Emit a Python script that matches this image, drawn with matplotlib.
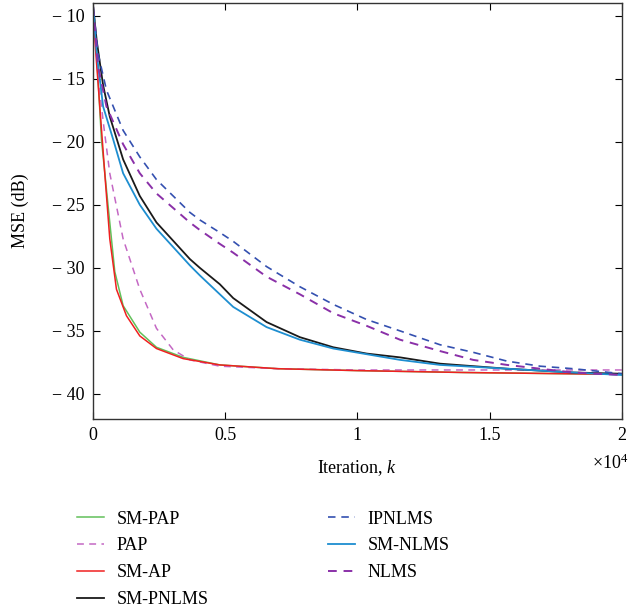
import matplotlib
matplotlib.use("Agg")
import matplotlib.pyplot as plt

plt.rcParams['font.family'] = ['Liberation Serif', 'DejaVu Serif']
plt.rcParams['mathtext.fontset'] = 'custom'
plt.rcParams['mathtext.rm'] = 'Liberation Serif'
plt.rcParams['mathtext.it'] = 'Liberation Serif:italic'

# values (iteration k, MSE in dB)
sm_pap_k = [0, 1, 120, 328, 580, 832, 1147, 1777, 2407, 3416, 4800, 7000, 10000, 14000, 20000]
sm_pap_db = [-42, -9, -12, -19.8, -25.1, -30.3, -33.0, -35.1, -36.3, -37.1, -37.7, -38.0, -38.15, -38.3, -38.45]

pap_k = [0, 1, 200, 400, 643, 1147, 1777, 2407, 3037, 3667, 4800, 7000, 10000, 14000, 20000]
pap_db = [-42, -9, -14.8, -18.5, -22.5, -27.7, -31.7, -34.8, -36.5, -37.3, -37.8, -38.0, -38.1, -38.1, -38.1]

sm_ap_k = [0, 1, 100, 265, 454, 643, 895, 1273, 1777, 2407, 3416, 4800, 7000, 10000, 14000, 20000]
sm_ap_db = [-42, -9, -12.5, -17.2, -22.5, -27.7, -31.7, -33.8, -35.4, -36.4, -37.2, -37.7, -38.0, -38.15, -38.3, -38.45]

sm_pnlms_k = [0, 1, 150, 390, 643, 1147, 1777, 2407, 3667, 4045, 4800, 5306, 6566, 7826, 9087, 10347, 11607, 13120, 15650, 18150, 20000]
sm_pnlms_db = [-42, -9, -12, -15.5, -18.0, -21.4, -24.3, -26.4, -29.3, -30.0, -31.3, -32.4, -34.3, -35.5, -36.3, -36.8, -37.1, -37.6, -38.0, -38.3, -38.4]

ipnlms_k = [0, 1, 200, 517, 1147, 1777, 2407, 3667, 4045, 4800, 5306, 6566, 7826, 9087, 10347, 11607, 13120, 14370, 15650, 16900, 18150, 20000]
ipnlms_db = [-42, -9, -13, -15.9, -19.1, -21.2, -23.0, -25.6, -26.2, -27.2, -27.9, -29.9, -31.5, -32.9, -34.1, -35.0, -36.1, -36.7, -37.4, -37.8, -38.0, -38.4]

sm_nlms_k = [0, 1, 150, 391, 769, 1147, 1777, 2407, 3667, 4045, 5306, 6566, 7826, 9087, 11607, 13120, 15650, 18150, 20000]
sm_nlms_db = [-42, -9, -13, -17.2, -19.8, -22.5, -25.0, -26.9, -29.8, -30.6, -33.1, -34.7, -35.7, -36.4, -37.3, -37.7, -38.0, -38.3, -38.5]

nlms_k = [0, 1, 200, 517, 1147, 1777, 2407, 3667, 4045, 4800, 5306, 6566, 7826, 9087, 10347, 11607, 13120, 14370, 15650, 16900, 18150, 20000]
nlms_db = [-42, -9, -14, -17.2, -20.2, -22.5, -24.1, -26.4, -27.0, -28.1, -28.8, -30.7, -32.1, -33.6, -34.6, -35.7, -36.6, -37.3, -37.7, -38.0, -38.3, -38.5]

fig = plt.figure(figsize=(6.31, 6.11), dpi=100)
ax = fig.add_axes([0.147, 0.314, 0.839, 0.681])

dash = (0, (4.5, 3.5))
ax.plot(sm_pap_k, sm_pap_db, color='#62c05a', lw=1.1, label='SM-PAP')
ax.plot(pap_k, pap_db, color='#c468c4', lw=1.1, ls=dash, label='PAP')
ax.plot(sm_ap_k, sm_ap_db, color='#f02020', lw=1.1, label='SM-AP')
ax.plot(sm_pnlms_k, sm_pnlms_db, color='#1a1a1a', lw=1.3, label='SM-PNLMS')
ax.plot(ipnlms_k, ipnlms_db, color='#3450b0', lw=1.2, ls=dash, label='IPNLMS')
ax.plot(sm_nlms_k, sm_nlms_db, color='#1e8ed0', lw=1.3, label='SM-NLMS')
ax.plot(nlms_k, nlms_db, color='#8a30a8', lw=1.4, ls=dash, label='NLMS')

ax.set_xlim(0, 20000)
ax.set_ylim(-42, -9)
ax.set_xticks([0, 5000, 10000, 15000, 20000])
ax.set_xticklabels(['0', '0.5', '1', '1.5', '2'])
ax.set_yticks([-40, -35, -30, -25, -20, -15, -10])
ax.set_yticklabels(['\u2212 40', '\u2212 35', '\u2212 30', '\u2212 25', '\u2212 20', '\u2212 15', '\u2212 10'])
ax.tick_params(direction='in', length=5, labelsize=13, top=True, right=True, pad=6)
for s in ax.spines.values():
    s.set_color('#333333')
    s.set_linewidth(1.0)

ax.set_ylabel('MSE (dB)', fontsize=13)
ax.yaxis.set_label_coords(-0.12, 0.5)
ax.set_xlabel('Iteration, $k$', fontsize=13, labelpad=10)
ax.text(1.012, -0.105, r'$\times10^{4}$', transform=ax.transAxes, ha='right', va='center', fontsize=13)

fig.legend(loc='upper left', bbox_to_anchor=(0.096, 0.191), ncol=2, frameon=False,
           fontsize=13, handlelength=1.5, columnspacing=6.6, labelspacing=0.55, handletextpad=0.7)

fig.savefig('out.png', dpi=100)
